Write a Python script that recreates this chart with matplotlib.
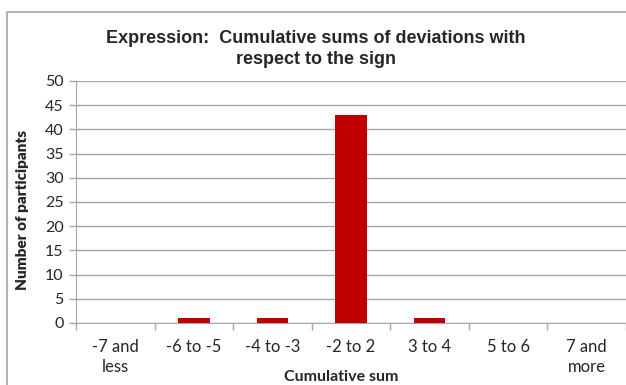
import matplotlib.pyplot as plt
from matplotlib.patches import Rectangle

categories = ['-7 and\nless', '-6 to -5', '-4 to -3', '-2 to 2', '3 to 4', '5 to 6', '7 and\nmore']
participants = [0, 1, 1, 43, 1, 0, 0]
y_ticks = list(range(0, 51, 5))

W, H = 626, 385
fig = plt.figure(figsize=(W / 100, H / 100), dpi=100)
fig.patch.set_facecolor('white')

# chart frame
fig.patches.append(Rectangle((7 / W, -0.1), 1.2, 1.1 - 12 / H, transform=fig.transFigure,
                             fill=False, edgecolor='#a6a6a6', lw=1.2))

ax = fig.add_axes([76 / W, 1 - 323 / H, 1 - 76 / W, (323 - 81) / H])
x = list(range(len(categories)))
ax.bar(x, participants, width=0.4, color='#c00000', zorder=3)

ax.set_ylim(0, 50)
ax.set_xlim(-0.5, 6.5 - 1 / 78.7)
ax.set_yticks(y_ticks)
ax.set_yticklabels([str(v) for v in y_ticks], fontfamily='Lato', fontsize=11.5, color='#262626')
ax.yaxis.grid(True, color='#a6a6a6', lw=1)
ax.set_axisbelow(True)

ax.set_xticks([i - 0.5 for i in range(len(categories) + 1)])
ax.set_xticklabels([])
ax.tick_params(axis='x', length=5, color='#a6a6a6', width=1)
ax.tick_params(axis='y', length=5, color='#a6a6a6', width=1, pad=4)
for i, c in enumerate(categories):
    ax.text(i, -0.068, c, transform=ax.get_xaxis_transform(), ha='center', va='top',
            fontfamily='Lato', fontsize=12, color='#262626', linespacing=1.3)

for s in ['top', 'right']:
    ax.spines[s].set_visible(False)
for s in ['left', 'bottom']:
    ax.spines[s].set_color('#a6a6a6')

fig.text(316 / W, 1 - 49 / H, 'Expression:  Cumulative sums of deviations with\nrespect to the sign',
         ha='center', va='center', fontfamily='Liberation Sans', fontweight='bold',
         fontsize=13, color='#262626', linespacing=1.3)
fig.text(341 / W, 1 - 377 / H, 'Cumulative sum', ha='center', va='center',
         fontfamily='Lato', fontweight='bold', fontsize=11.5, color='#262626')
fig.text(23 / W, 1 - 210 / H, 'Number of participants', ha='center', va='center', rotation=90,
         fontfamily='Lato', fontweight='heavy', fontsize=11, color='#262626')

fig.savefig('out.png', dpi=100)
